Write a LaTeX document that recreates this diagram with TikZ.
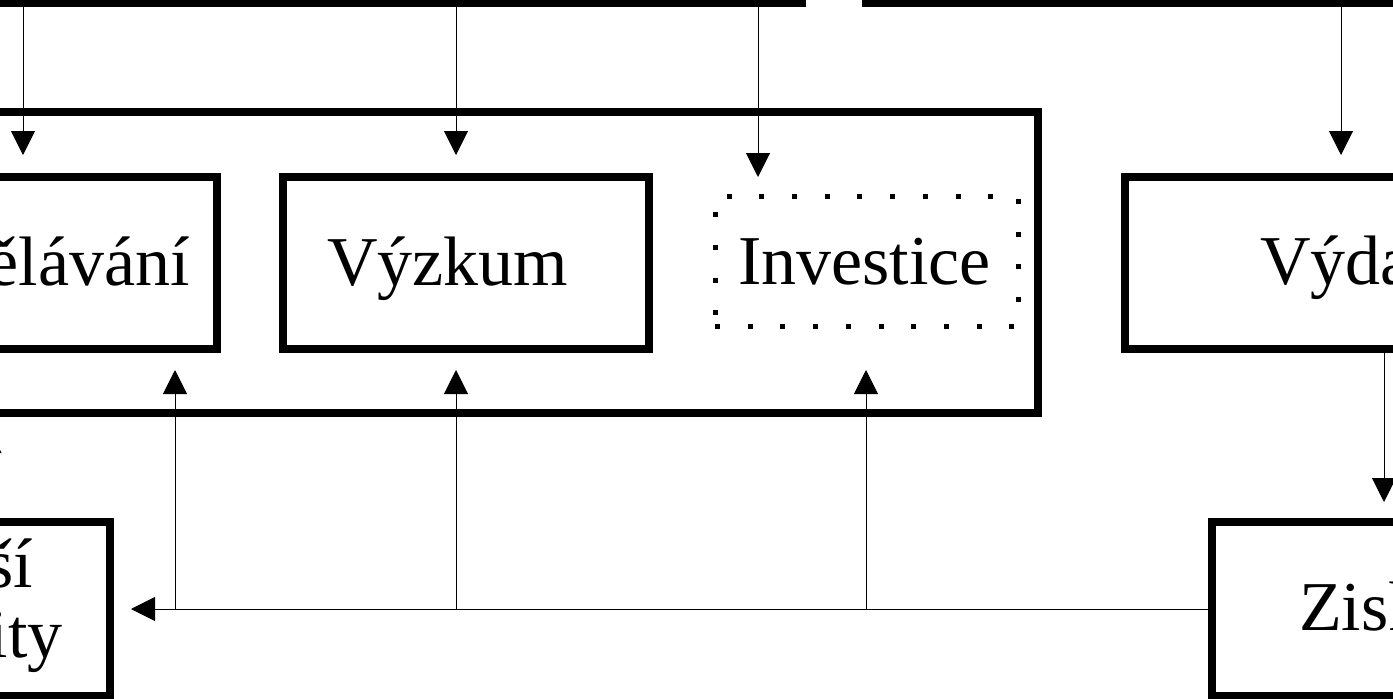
\documentclass[tikz,border=0pt]{standalone}
\usepackage{fontspec}
\setmainfont{Liberation Serif}
\usetikzlibrary{arrows.meta}
\begin{document}
\begin{tikzpicture}[x=1pt,y=-1pt,
  box/.style={draw, line width=7.5pt, rectangle, inner sep=0pt},
  dotbox/.style={draw, line width=5pt, dash pattern=on 5pt off 27.7pt, rectangle, inner sep=0pt},
  conn/.style={line width=1pt, -{Triangle[length=24pt,width=24pt]}},
  lbl/.style={inner sep=0pt, font=\fontsize{70}{70}\selectfont}]
\useasboundingbox (0,0) rectangle (1393,699);
\clip (0,0) rectangle (1393,699);

% boxes
\node[box, minimum width=1202pt, minimum height=153.5pt] (topL) at (201,-73.25) {};
\node[box, minimum width=834.5pt, minimum height=153.5pt] (topR) at (1282.75,-73.25) {};
\node[box, minimum width=1288pt, minimum height=301pt] (frame) at (394,262.5) {};
\node[box, minimum width=377pt, minimum height=172pt] (vzd) at (28.5,263) {};
\node[box, minimum width=366pt, minimum height=172pt] (vyz) at (466,263) {};
\node[dotbox, minimum width=303pt, minimum height=130pt] (inv) at (866.5,261) {};
\node[box, minimum width=525pt, minimum height=172pt] (vyd) at (1387.5,263) {};
\node[box, minimum width=388pt, minimum height=174pt] (zisk) at (1406,609) {};
\node[box, minimum width=308pt, minimum height=174pt] (dalsi) at (-44,609) {};

% texts
\node[lbl, anchor=base east] (tvzd) at (190,285) {Vzdělávání};
\node[lbl, anchor=base west] (tvyz) at (327,285) {Výzkum};
\node[lbl, anchor=base west] (tinv) at (738,284) {Investice};
\node[lbl, anchor=base west] (tvyd) at (1260,284) {Výdaje};
\node[lbl, anchor=base west] (tzisk) at (1299,630) {Zisk};
\node[lbl, anchor=base east] (tdal1) at (33,587) {Další};
\node[lbl, anchor=base east] (tdal2) at (63,657) {aktivity};

% connector coordinates
\coordinate (x1) at (23,0);
\coordinate (x2) at (456,0);
\coordinate (x3) at (758,0);
\coordinate (x4) at (1341,0);
\coordinate (x5) at (1384,0);
\coordinate (j1) at (175,609);
\coordinate (j2) at (456,609);
\coordinate (j3) at (866,609);
\coordinate (c0) at (-10.5,429);

% down arrows
\draw[conn, shorten >=18.25pt] (topL.south -| x1) -- (vzd.north -| x1);
\draw[conn, shorten >=18.25pt] (topL.south -| x2) -- (vyz.north -| x2);
\draw[conn, shorten >=16.5pt] (topL.south -| x3) -- (inv.north -| x3);
\draw[conn, shorten >=18.25pt] (topR.south -| x4) -- (vyd.north -| x4);
\draw[conn, shorten >=16.25pt] (vyd.south -| x5) -- (zisk.north -| x5);

% feedback line
\draw[conn, shorten >=17.25pt] (zisk.west) -- (dalsi.east);
\draw[conn, shorten >=17.25pt] (j1) -- (vzd.south -| j1);
\draw[conn, shorten >=17.25pt] (j2) -- (vyz.south -| j2);
\draw[conn, shorten >=41.5pt] (j3) -- (inv.south -| j3);
\draw[conn] (dalsi.north -| c0) -- (c0);
\end{tikzpicture}
\end{document}
